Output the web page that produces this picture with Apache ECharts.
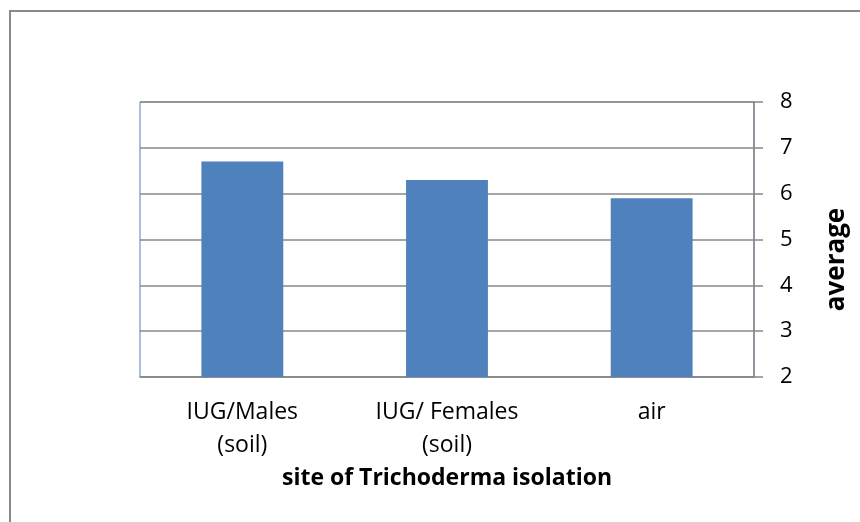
<!DOCTYPE html>
<html>
<head>
<meta charset="utf-8">
<script src="https://cdn.jsdelivr.net/npm/echarts@6/dist/echarts.min.js"></script>
<style>
  html, body { margin: 0; padding: 0; background: #fff; }
  #chart { width: 860px; height: 522px; }
</style>
</head>
<body>
<div id="chart"></div>
<script>
// data
const categories = ["IUG/Males\n(soil)", "IUG/ Females\n(soil)", "air"];
const averages = [6.7, 6.3, 5.9];
const yTicks = { min: 2, max: 8, step: 1 };

const font = "'Open Sans', sans-serif";
const chart = echarts.init(document.getElementById("chart"));

chart.setOption({
  animation: false,
  backgroundColor: "#fff",
  graphic: [
    {
      type: "polyline",
      shape: { points: [[10, 522], [10, 11], [860, 11]] },
      style: { stroke: "#888", lineWidth: 2, fill: null }
    }
  ],
  grid: {
    left: 140,
    right: 106,
    top: 102,
    bottom: 145,
    show: true,
    borderColor: "#4F81BD",
    borderWidth: 1
  },
  xAxis: {
    type: "category",
    data: categories,
    axisLine: { lineStyle: { color: "#888", width: 1.5 } },
    axisTick: { show: false },
    axisLabel: {
      color: "#000",
      fontFamily: font,
      fontSize: 23,
      lineHeight: 33,
      margin: 19,
      interval: 0
    },
    name: "site of Trichoderma isolation",
    nameLocation: "middle",
    nameGap: 84,
    nameTextStyle: {
      color: "#000",
      fontFamily: font,
      fontSize: 23,
      fontWeight: "bold"
    }
  },
  yAxis: {
    type: "value",
    position: "right",
    min: yTicks.min,
    max: yTicks.max,
    interval: yTicks.step,
    axisLine: { show: true, lineStyle: { color: "#888", width: 1.5 } },
    axisTick: { show: true, length: 9, lineStyle: { color: "#888", width: 1.5 } },
    splitLine: { lineStyle: { color: "#888", width: 1.5 } },
    axisLabel: {
      color: "#000",
      fontFamily: font,
      fontSize: 22,
      margin: 26
    },
    name: "average",
    nameLocation: "middle",
    nameRotate: 90,
    nameGap: 70,
    nameTextStyle: {
      color: "#000",
      fontFamily: font,
      fontSize: 26,
      fontWeight: "bold",
      padding: [0, 40, 0, 0]
    }
  },
  series: [
    {
      type: "bar",
      data: averages,
      barWidth: "40%",
      itemStyle: { color: "#4F81BD" }
    }
  ]
});
</script>
</body>
</html>
